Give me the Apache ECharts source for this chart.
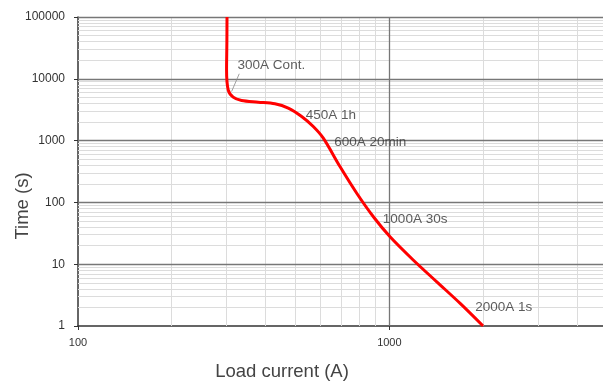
<!DOCTYPE html>
<html>
<head>
<meta charset="utf-8">
<script src="https://cdn.jsdelivr.net/npm/echarts@6/dist/echarts.min.js"></script>
<style>html,body{margin:0;padding:0;background:#fff}#c{width:603px;height:382px}</style>
</head>
<body>
<div id="c"></div>
<script>
// Curve (Load current A, Time s)
const curveCurrent = [301, 300.7, 300, 303.6, 315, 335.3, 379, 429, 473.4, 522.7, 569.6, 613.5, 694, 785.6, 888.5, 1005, 1195, 1420, 1688, 2000];
const curveTime    = [100000, 37900, 14000, 6640, 5050, 4450, 4190, 3940, 3350, 2450, 1690, 1094, 380, 140.6, 58.6, 27.8, 11.6, 5.18, 2.32, 1];

// Annotations
const labelTexts   = ['300A Cont.', '450A 1h', '600A 20min', '1000A 30s', '2000A 1s'];
const labelCurrent = [325.5, 539, 665, 953, 1886];
const labelTime    = [16260, 2540, 942, 53.2, 2.0];
const leaderCurrent = [329.5, 311.4];
const leaderTime    = [12050, 6220];

// Grid line values
const xMinor = [200, 300, 400, 500, 600, 700, 800, 900, 2000, 3000, 4000];
const xMajor = [1000];
const yMinor = [];
[1, 10, 100, 1000, 10000].forEach(d => { for (let k = 2; k <= 9; k++) yMinor.push(d * k); });
const yMajor = [10, 100, 1000, 10000, 100000];

const chart = echarts.init(document.getElementById('c'));
const curve = curveCurrent.map((x, i) => [x, curveTime[i]]);

function ml(arr, key, color, width) {
  return arr.map(v => ({ [key]: v, lineStyle: { color: color, width: width, type: 'solid' } }));
}

chart.setOption({
  animation: false,
  grid: { left: 78, top: 17, width: 529, height: 309, outerBoundsMode: 'none', containLabel: false },
  xAxis: {
    type: 'log', logBase: 10, min: 100, max: 5000,
    axisLine: { show: true, lineStyle: { color: '#333', width: 1.5 } },
    axisTick: { show: true, length: 4, lineStyle: { color: '#333' } },
    axisLabel: { fontSize: 11, color: '#333', margin: 11, fontFamily: 'Liberation Sans, Arial, sans-serif',
      formatter: v => (v === 100 || v === 1000) ? String(v) : '' },
    splitLine: { show: false }, minorTick: { show: false }, minorSplitLine: { show: false }
  },
  yAxis: {
    type: 'log', logBase: 10, min: 1, max: 100000,
    axisLine: { show: true, lineStyle: { color: '#333', width: 1.5 } },
    axisTick: { show: true, length: 4, lineStyle: { color: '#333' } },
    axisLabel: { fontSize: 12, color: '#333', margin: 13, fontFamily: 'Liberation Sans, Arial, sans-serif',
      formatter: v => String(Math.round(v)) },
    splitLine: { show: false }, minorTick: { show: false }, minorSplitLine: { show: false }
  },
  graphic: [
    { type: 'text', style: { text: 'Load current (A)', x: 282, y: 372, align: 'center', verticalAlign: 'middle', font: '18.5px "Liberation Sans", Arial, sans-serif', fill: '#444' } },
    { type: 'text', rotation: Math.PI / 2, x: 23, y: 206, style: { text: 'Time (s)', x: 0, y: 0, align: 'center', verticalAlign: 'middle', font: '18.5px "Liberation Sans", Arial, sans-serif', fill: '#444' } }
  ],
  series: [
    {
      type: 'line', z: 1, data: curve, symbol: 'none', silent: true,
      lineStyle: { opacity: 0 },
      markLine: {
        z: 1, silent: true, symbol: 'none', label: { show: false }, animation: false,
        data: [].concat(
          ml(xMinor, 'xAxis', '#dcdcdc', 1),
          ml(yMinor, 'yAxis', '#dcdcdc', 1),
          ml(xMajor, 'xAxis', '#777', 1.3),
          ml(yMajor, 'yAxis', '#777', 1.3)
        )
      }
    },
    {
      type: 'line', z: 8, data: leaderCurrent.map((x, i) => [x, leaderTime[i]]), symbol: 'none', silent: true,
      lineStyle: { color: '#888', width: 0.8 }
    },
    {
      type: 'line', z: 10, data: curve, smooth: 0.3, symbol: 'none', silent: true,
      lineStyle: { color: '#ff0000', width: 3 }
    },
    {
      type: 'scatter', z: 12, symbolSize: 0, silent: true,
      data: labelCurrent.map((x, i) => ({ value: [x, labelTime[i]], name: labelTexts[i] })),
      label: { show: true, position: 'right', distance: 0, formatter: p => p.name,
        fontSize: 13.5, color: '#333', fontFamily: 'Liberation Sans, Arial, sans-serif' }
    }
  ]
});
</script>
</body>
</html>
